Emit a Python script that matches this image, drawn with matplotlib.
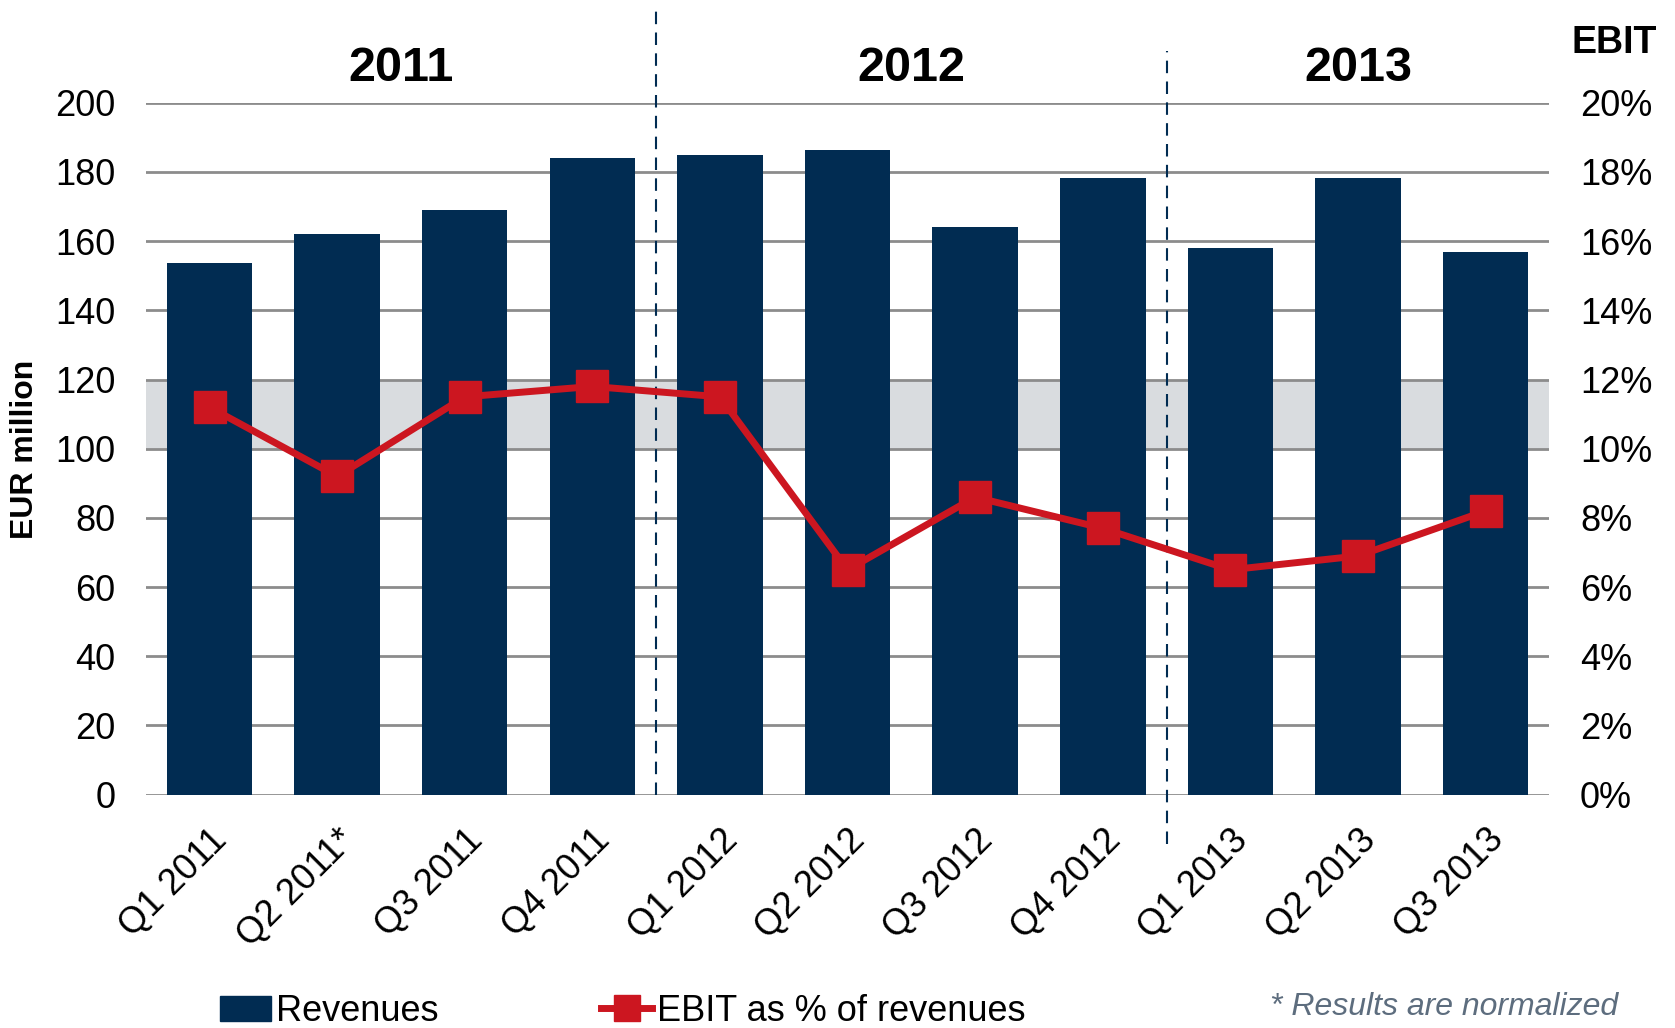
import matplotlib
matplotlib.use("Agg")
import matplotlib.pyplot as plt
import matplotlib.transforms as mtransforms
from matplotlib.lines import Line2D
from matplotlib.patches import Patch

# quarterly revenues (EUR million) and EBIT margin (%)
quarters = ["Q1 2011", "Q2 2011*", "Q3 2011", "Q4 2011", "Q1 2012", "Q2 2012",
            "Q3 2012", "Q4 2012", "Q1 2013", "Q2 2013", "Q3 2013"]
revenues = [153.7, 162.0, 169.1, 183.9, 184.9, 186.4, 164.2, 178.4, 158.0, 178.4, 156.8]
ebit_pct = [11.2, 9.2, 11.5, 11.8, 11.5, 6.5, 8.6, 7.7, 6.5, 6.9, 8.2]
years = ["2011", "2012", "2013"]
year_centers = [1.5, 5.5, 9.0]
left_ticks = list(range(0, 201, 20))
right_ticks = list(range(0, 21, 2))

navy = "#012C52"
red = "#CC1620"
grid_grey = "#8C8C8C"

plt.rcParams["font.family"] = ["Liberation Sans", "DejaVu Sans"]

fig = plt.figure(figsize=(16.75, 10.28), dpi=100)
ax = fig.add_axes([0.087, 0.227, 0.838, 0.673])
x = list(range(len(quarters)))

ax.axhspan(100, 120, color="#D9DCDF", zorder=0)
for t in left_ticks:
    ax.axhline(t, color=grid_grey, lw=2, zorder=1)
ax.bar(x, revenues, width=0.67, color=navy, zorder=2)
ax.set_xlim(-0.5, 10.5)
ax.set_ylim(0, 200)
ax.set_yticks(left_ticks)
ax.tick_params(axis="y", length=0, pad=22, labelsize=26)
ax.set_xticks(x)
ax.set_xticklabels(quarters, rotation=45, ha="right", va="top", rotation_mode="anchor", fontsize=26)
ax.tick_params(axis="x", length=0, pad=20)
for s in ax.spines.values():
    s.set_visible(False)

# year separators
ax.axvline(3.5, ymin=0, ymax=1.133, color=navy, ls=(0, (6, 4)), lw=1.5, clip_on=False, zorder=3)
ax.axvline(7.5, ymin=-0.071, ymax=1.075, color=navy, ls=(0, (6, 4)), lw=1.5, clip_on=False, zorder=3)

trans = mtransforms.blended_transform_factory(ax.transData, ax.transAxes)
for xc, yr in zip(year_centers, years):
    ax.text(xc, 1.05, yr, transform=trans, ha="center", va="center", fontsize=35, fontweight="bold")

ax2 = ax.twinx()
ax2.plot(x, ebit_pct, color=red, lw=5, marker="s", markersize=23, zorder=5)
ax2.set_ylim(0, 20)
ax2.set_yticks(right_ticks)
ax2.set_yticklabels([f"{t}%" for t in right_ticks])
ax2.tick_params(axis="y", length=0, pad=22, labelsize=26)
for s in ax2.spines.values():
    s.set_visible(False)
ax2.text(1.046, 1.086, "EBIT", transform=ax2.transAxes, ha="center", va="center",
         fontsize=27, fontweight="bold")

fig.text(0.015, 0.563, "EUR million", rotation=90, ha="center", va="center",
         fontsize=23, fontweight="bold")

handles = [Patch(color=navy), Line2D([], [], color=red, lw=5, marker="s", markersize=19)]
fig.legend(handles, ["Revenues", "EBIT as % of revenues"], loc="center", ncol=2,
           bbox_to_anchor=(0.372, 0.016), frameon=False, fontsize=26,
           handlelength=1.4, handletextpad=0.15, columnspacing=4.5)

fig.text(0.966, 0.02, "* Results are normalized", ha="right", va="center",
         fontsize=23, style="italic", color="#5D6D7E")

fig.savefig("out.png", dpi=100)
